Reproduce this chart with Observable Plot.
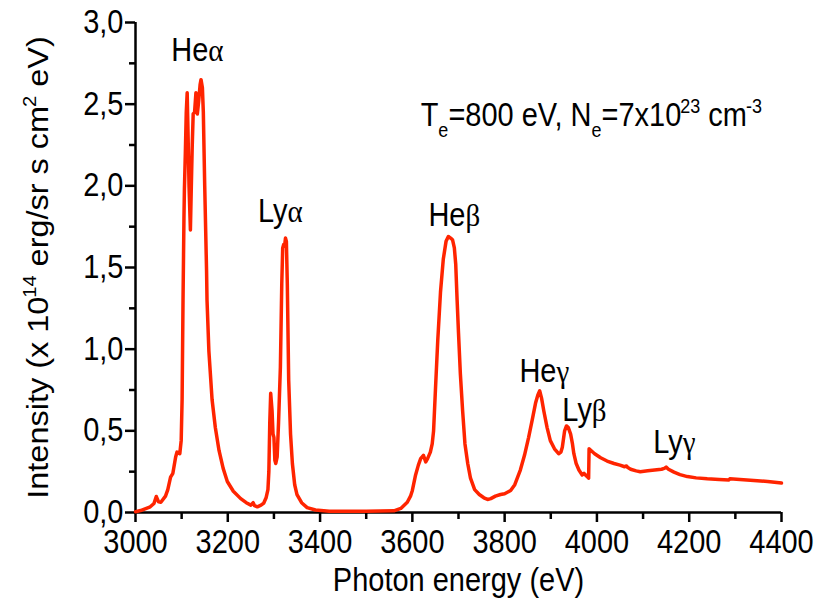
<!DOCTYPE html>
<html>
<head>
<meta charset="utf-8">
<script src="https://cdn.jsdelivr.net/npm/d3@7"></script>
<script src="https://cdn.jsdelivr.net/npm/@observablehq/plot@0.6"></script>
<style>
  body { margin: 0; background: #fff; }
  #chart svg { display: block; }
</style>
</head>
<body>
<div id="chart"></div>
<script>
// Computed emission spectrum: photon energy (eV) and intensity (x 10^14 erg/sr s cm^2 eV)
const energy = [
  3000, 3011, 3032, 3040, 3045, 3050, 3055, 3065, 3070, 3076, 3081, 3087, 3090, 3096, 3099, 3101,
  3103, 3105, 3106, 3108, 3110, 3112, 3114, 3116, 3119, 3121, 3123, 3125, 3128, 3131, 3134, 3137,
  3140, 3142, 3145, 3147, 3150, 3154, 3155, 3159, 3166, 3173, 3181, 3190, 3199, 3212, 3228, 3240,
  3250, 3255, 3258, 3264, 3272, 3278, 3283, 3287, 3289, 3291, 3293, 3296, 3298, 3300, 3302, 3304,
  3307, 3310, 3314, 3317, 3319, 3321, 3323, 3325, 3327, 3329, 3332, 3336, 3340, 3345, 3350, 3360,
  3372, 3390, 3420, 3500, 3560, 3575, 3589, 3596, 3600, 3607, 3613, 3618, 3624, 3629, 3633, 3639,
  3643, 3646, 3650, 3655, 3661, 3667, 3673, 3678, 3683, 3687, 3691, 3694, 3697, 3700, 3704, 3709,
  3714, 3720, 3726, 3735, 3745, 3755, 3763, 3770, 3780, 3791, 3800, 3813, 3822, 3834, 3843, 3852,
  3860, 3867, 3872, 3876, 3880, 3885, 3892, 3899, 3908, 3917, 3922, 3925, 3930, 3934, 3938, 3943,
  3947, 3950, 3955, 3961, 3968, 3972, 3975, 3979, 3982, 3983, 3995, 4008, 4022, 4037, 4050, 4060,
  4064, 4067, 4073, 4085, 4094, 4110, 4125, 4140, 4146, 4150, 4155, 4167, 4180, 4196, 4215, 4239,
  4265, 4286, 4288, 4310, 4340, 4370, 4400
];
const intensity = [
  0.005, 0.012, 0.035, 0.055, 0.098, 0.065, 0.063, 0.10, 0.14, 0.216, 0.24, 0.34, 0.37, 0.36, 0.44, 0.69,
  1.30, 1.80, 1.98, 2.20, 2.45, 2.57, 2.30, 2.00, 1.73, 2.00, 2.25, 2.44, 2.45, 2.57, 2.44, 2.52,
  2.62, 2.65, 2.60, 2.45, 2.00, 1.48, 1.30, 0.99, 0.69, 0.52, 0.38, 0.27, 0.19, 0.13, 0.085, 0.06,
  0.045, 0.06, 0.042, 0.035, 0.045, 0.058, 0.09, 0.14, 0.25, 0.55, 0.73, 0.62, 0.48, 0.46, 0.32, 0.30,
  0.34, 0.55, 0.89, 1.40, 1.62, 1.64, 1.63, 1.68, 1.66, 1.40, 0.81, 0.48, 0.30, 0.17, 0.11, 0.06,
  0.03, 0.015, 0.008, 0.007, 0.01, 0.025, 0.063, 0.10, 0.135, 0.23, 0.29, 0.33, 0.35, 0.31, 0.33, 0.37,
  0.42, 0.50, 0.75, 1.05, 1.35, 1.55, 1.66, 1.69, 1.68, 1.67, 1.62, 1.52, 1.30, 1.10, 0.85, 0.62,
  0.42, 0.30, 0.21, 0.14, 0.11, 0.09, 0.08, 0.085, 0.10, 0.11, 0.115, 0.135, 0.17, 0.26, 0.35, 0.46,
  0.57, 0.67, 0.72, 0.745, 0.70, 0.62, 0.52, 0.44, 0.39, 0.36, 0.37, 0.40, 0.50, 0.53, 0.52, 0.48,
  0.42, 0.36, 0.30, 0.26, 0.23, 0.24, 0.23, 0.22, 0.21, 0.39, 0.36, 0.335, 0.315, 0.30, 0.29, 0.28,
  0.285, 0.275, 0.265, 0.255, 0.25, 0.255, 0.26, 0.265, 0.27, 0.278, 0.265, 0.247, 0.232, 0.22, 0.212, 0.206,
  0.202, 0.199, 0.206, 0.202, 0.196, 0.19, 0.18
];

// Spectral line labels: ion prefix, Greek series letter, and where each label sits
const linePrefix = ["He", "Ly", "He", "He", "Ly", "Ly"];
const lineGreek = ["α", "α", "β", "γ", "β", "γ"];
const lineLabelX = [3134, 3314, 3691, 3886, 3973, 4168];
const lineLabelY = [2.83, 1.84, 1.82, 0.863, 0.625, 0.43];

// Plasma conditions note: [text, role]
const conditionParts = [
  ["T", ""], ["e", "sub"], ["=800 eV, N", ""], ["e", "sub"],
  ["=7x10", ""], ["23", "sup"], [" cm", ""], ["-3", "sup"]
];
const conditionX = 3618;
const conditionY = 2.43;

// Axis ticks and titles
const xMajorTicks = [3000, 3200, 3400, 3600, 3800, 4000, 4200, 4400];
const xMinorTicks = [3100, 3300, 3500, 3700, 3900, 4100, 4300];
const yMajorTicks = [0, 0.5, 1.0, 1.5, 2.0, 2.5, 3.0];
const yMinorTicks = [0.25, 0.75, 1.25, 1.75, 2.25, 2.75];
const xTitle = "Photon energy (eV)";
const yTitleParts = [
  ["Intensity (x 10", ""], ["14", "sup"], [" erg/sr s cm", ""], ["2", "sup"], [" eV)", ""]
];

const commaFormat = d3.formatLocale({decimal: ",", thousands: "", grouping: [3], currency: ["", ""]}).format(".1f");
const spectrum = energy.map((e, i) => ({energy: e, intensity: intensity[i]}));
const SANS = '"Liberation Sans", Arial, sans-serif';
const SERIF = '"Liberation Serif", "Times New Roman", serif';

const chart = Plot.plot({
  width: 817,
  height: 607,
  marginLeft: 135,
  marginRight: 36,
  marginTop: 22,
  marginBottom: 95,
  style: {fontFamily: SANS, fontSize: "29px", color: "#000", background: "#fff", overflow: "visible"},
  x: {domain: [3000, 4400]},
  y: {domain: [0, 3]},
  marks: [
    Plot.axisX(xMinorTicks, {tickSize: 7, strokeWidth: 2.5, tickFormat: () => "", label: null}),
    Plot.axisX(xMajorTicks, {
      tickSize: 10, strokeWidth: 2.5, tickPadding: 7, tickFormat: d3.format("d"),
      label: xTitle, labelAnchor: "center", labelArrow: "none", labelOffset: 78
    }),
    Plot.axisY(yMinorTicks, {tickSize: 6, strokeWidth: 2.5, tickFormat: () => "", label: null}),
    Plot.axisY(yMajorTicks, {
      tickSize: 10, strokeWidth: 2.5, tickPadding: 2, tickFormat: commaFormat,
      label: yTitleParts.map(p => p[0]).join(""), labelAnchor: "center", labelArrow: "none",
      labelOffset: 108
    }),
    Plot.ruleX([3000], {strokeWidth: 2.5}),
    Plot.ruleY([0], {strokeWidth: 2.5}),
    Plot.line(spectrum, {
      x: "energy", y: "intensity", stroke: "#ff2400", strokeWidth: 3.5,
      strokeLinejoin: "round", strokeLinecap: "round"
    }),
    Plot.text(linePrefix, {
      x: (d, i) => lineLabelX[i], y: (d, i) => lineLabelY[i],
      text: (d, i) => d + lineGreek[i], fontSize: 29
    }),
    Plot.text([conditionParts.map(p => p[0]).join("")], {
      x: () => conditionX, y: () => conditionY, textAnchor: "start", fontSize: 29
    })
  ]
});

// Rebuild a text element from parts so sub- and superscripts are drawn as tspans
const NS = "http://www.w3.org/2000/svg";
function setRich(el, parts, opts = {}) {
  if (!el) return;
  el.textContent = "";
  let shift = 0;
  for (const [t, role] of parts) {
    const ts = document.createElementNS(NS, "tspan");
    ts.textContent = t;
    let target = 0;
    if (role === "sub") { ts.setAttribute("font-size", "0.62em"); target = opts.subShift ?? 9; ts.setAttribute("dx", opts.subDx ?? 0); }
    else if (role === "sup") { ts.setAttribute("font-size", "0.62em"); target = opts.supShift ?? -12; ts.setAttribute("dx", opts.supDx ?? 0); }
    if (role === "serif") ts.setAttribute("font-family", SERIF);
    if (target !== shift) { ts.setAttribute("dy", target - shift); shift = target; }
    el.appendChild(ts);
  }
}

const textGroups = chart.querySelectorAll('g[aria-label="text"]');
textGroups[0].querySelectorAll("text").forEach((el, i) => {
  setRich(el, [[linePrefix[i], ""], [lineGreek[i], "serif"]]);
});
setRich(textGroups[1].querySelector("text"), conditionParts, {subShift: 10, supShift: -12, subDx: 0, supDx: -1});
setRich(chart.querySelector('g[aria-label="y-axis label"] text'), yTitleParts, {supShift: -12, supDx: -1});

// Glyphs are drawn a little taller than wide, in the upright direction of each label
const STRETCH = 1.12;
chart.querySelectorAll("text").forEach(el => {
  const tr = el.getAttribute("transform") || "";
  if (!/translate/.test(tr)) return;
  el.setAttribute("transform", tr + (/rotate/.test(tr) ? ` scale(${STRETCH},1)` : ` scale(1,${STRETCH})`));
});

document.getElementById("chart").appendChild(chart);
</script>
</body>
</html>
